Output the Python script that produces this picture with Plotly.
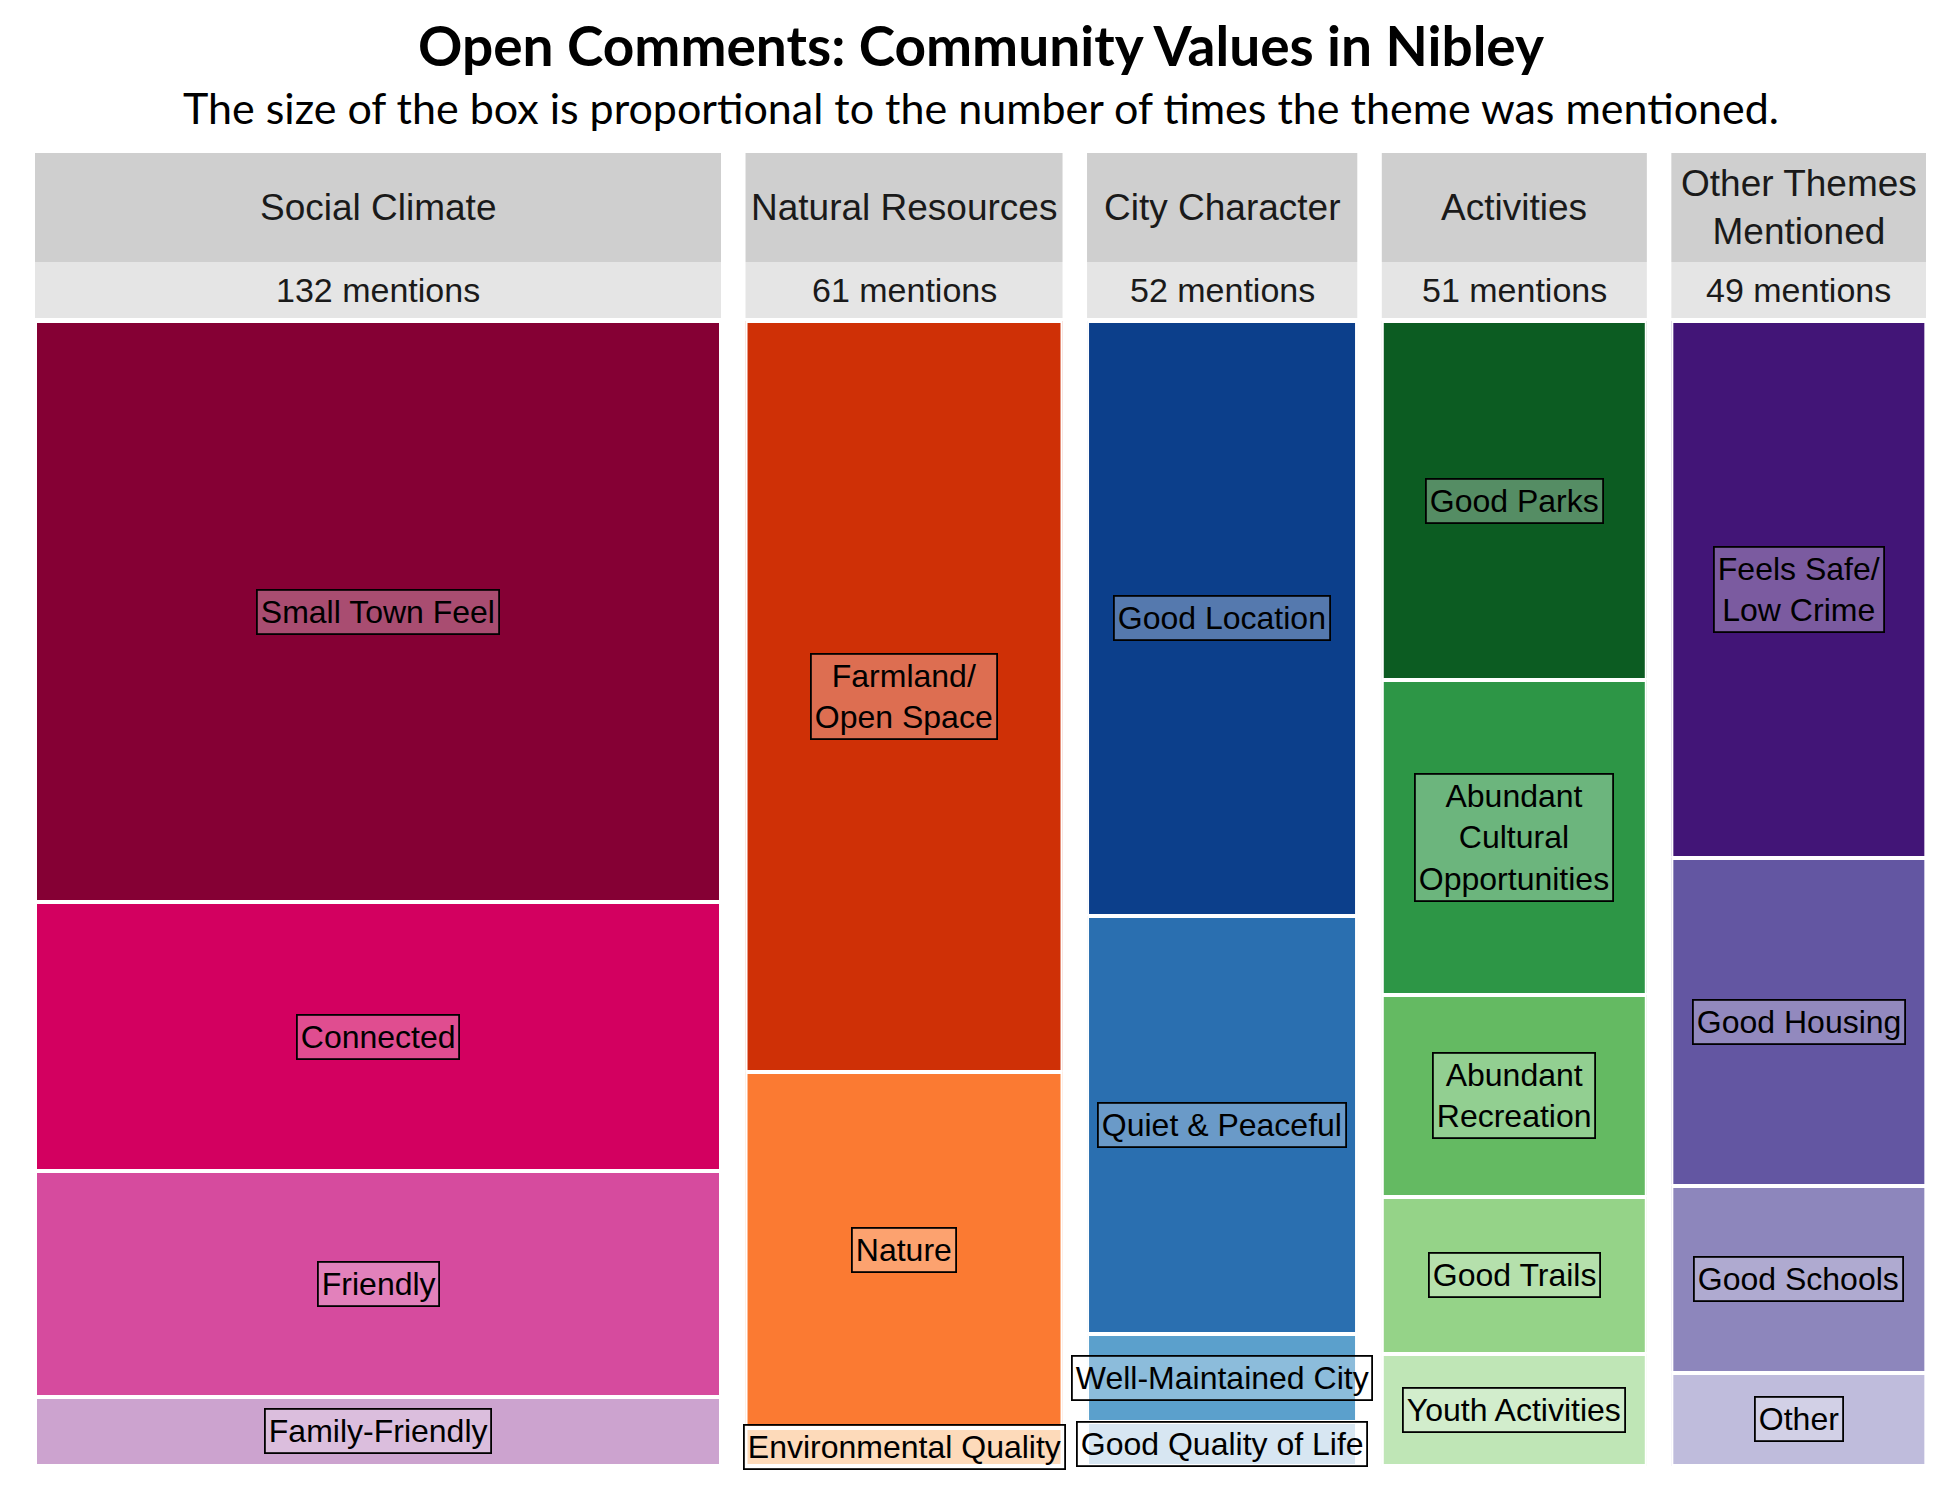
import plotly.graph_objects as go
from plotly.subplots import make_subplots

# ---------------- data ----------------
categories = ["Social Climate", "Natural Resources", "City Character", "Activities", "Other Themes<br>Mentioned"]

social_labels = ["Small Town Feel", "Connected", "Friendly", "Family-Friendly"]
social_counts = [67, 31, 26, 8]

natural_labels = ["Farmland/<br>Open Space", "Nature", "Environmental Quality"]
natural_counts = [40, 19, 2]

city_labels = ["Good Location", "Quiet & Peaceful", "Well-Maintained City", "Good Quality of Life"]
city_counts = [27, 19, 4, 2]

activities_labels = ["Good Parks", "Abundant<br>Cultural<br>Opportunities", "Abundant<br>Recreation",
                     "Good Trails", "Youth Activities"]
activities_counts = [16, 14, 9, 7, 5]

other_labels = ["Feels Safe/<br>Low Crime", "Good Housing", "Good Schools", "Other"]
other_counts = [23, 14, 8, 4]

social_colors = ["#850034", "#D30060", "#D64B9E", "#CCA3CF"]
natural_colors = ["#CF3006", "#FB7A32", "#FDCA9C"]
city_colors = ["#0C3F8B", "#2A6FB0", "#5BA0CC", "#C6DCEC"]
activities_colors = ["#0C5C22", "#2D9646", "#64BA62", "#95D388", "#BFE6B6"]
other_colors = ["#421577", "#6356A2", "#8D86BC", "#BFBCDC"]

title_text = "<b>Open Comments: Community Values in Nibley</b>"
subtitle_text = "The size of the box is proportional to the number of times the theme was mentioned."

groups = [
    (social_labels, social_counts, social_colors),
    (natural_labels, natural_counts, natural_colors),
    (city_labels, city_counts, city_colors),
    (activities_labels, activities_counts, activities_colors),
    (other_labels, other_counts, other_colors),
]
totals = [sum(g[1]) for g in groups]

# ---------------- layout geometry (figure pixels) ----------------
W, H = 1950, 1500
ML, MR, MT, MB = 27, 32, 145, 42
plot_w = W - ML - MR
plot_h = H - MT - MB
tiles_top_px = 313
sub_top_px, sub_bot_px = 254, 310
head_top_px = 145


def py(px):
    return (H - MB - px) / plot_h


fig = make_subplots(rows=1, cols=5, column_widths=totals,
                    horizontal_spacing=24.5 / plot_w)

LABEL_FONT = "Liberation Sans, Arial, sans-serif"
shapes = []
annotations = []

for i, ((labels, counts, colors), cat) in enumerate(zip(groups, categories)):
    col = i + 1
    total = sum(counts)
    bases = []
    acc = 0
    for c in counts:
        bases.append(acc)
        acc += c
    fig.add_trace(go.Bar(
        x=[0] * len(counts), y=counts, base=bases, width=1,
        marker=dict(color=colors, line=dict(color="white", width=4)),
        hoverinfo="skip", showlegend=False,
    ), row=1, col=col)
    xa = "x" if col == 1 else f"x{col}"
    ya = "y" if col == 1 else f"y{col}"
    fig.update_xaxes(range=[-0.5, 0.5], visible=False, fixedrange=True, row=1, col=col)
    fig.update_yaxes(range=[total, 0], visible=False, domain=[0, py(tiles_top_px)],
                     fixedrange=True, row=1, col=col)

    # tile labels
    for lab, c, b in zip(labels, counts, bases):
        annotations.append(dict(
            x=0, y=b + c / 2, xref=xa, yref=ya, text=lab, showarrow=False,
            font=dict(family=LABEL_FONT, size=32, color="black"),
            bgcolor="rgba(255,255,255,0.3)", bordercolor="black",
            borderwidth=1.8, borderpad=3, align="center",
            xanchor="center", yanchor="middle",
        ))

    # strips
    shapes.append(dict(type="rect", xref=f"{xa} domain", yref="paper",
                       x0=0, x1=1, y0=py(sub_top_px), y1=py(head_top_px),
                       fillcolor="#CFCFCF", line=dict(width=0), layer="below"))
    shapes.append(dict(type="rect", xref=f"{xa} domain", yref="paper",
                       x0=0, x1=1, y0=py(sub_bot_px), y1=py(sub_top_px),
                       fillcolor="#E5E5E5", line=dict(width=0), layer="below"))
    annotations.append(dict(
        x=0.5, y=(py(sub_top_px) + py(head_top_px)) / 2, xref=f"{xa} domain", yref="paper",
        text=cat, showarrow=False, font=dict(family=LABEL_FONT, size=37, color="#1A1A1A"),
        xanchor="center", yanchor="middle", align="center",
    ))
    annotations.append(dict(
        x=0.5, y=(py(sub_bot_px) + py(sub_top_px)) / 2, xref=f"{xa} domain", yref="paper",
        text=f"{total} mentions", showarrow=False,
        font=dict(family=LABEL_FONT, size=34, color="#1A1A1A"),
        xanchor="center", yanchor="middle",
    ))

# titles
annotations.append(dict(
    x=0.5, y=py(37), xref="paper", yref="paper", text=title_text, showarrow=False,
    font=dict(family="Lato, Open Sans, sans-serif", size=55, color="black"),
    xanchor="center", yanchor="middle",
))
annotations.append(dict(
    x=0.5, y=py(100), xref="paper", yref="paper", text=subtitle_text, showarrow=False,
    font=dict(family="Lato, Open Sans, sans-serif", size=43, color="black"),
    xanchor="center", yanchor="middle",
))

fig.update_layout(
    width=W, height=H,
    margin=dict(l=ML, r=MR, t=MT, b=MB),
    paper_bgcolor="white", plot_bgcolor="white",
    barmode="overlay", bargap=0,
    shapes=shapes, annotations=annotations,
)

fig.write_html("out.html")
